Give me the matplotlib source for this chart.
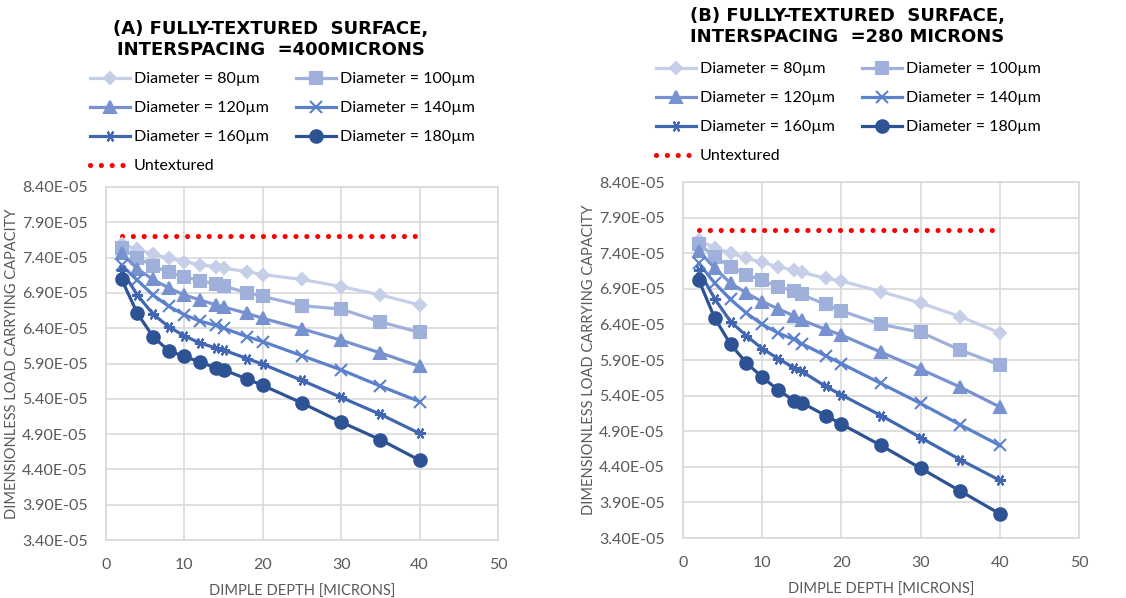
import numpy as np
import matplotlib
matplotlib.use('Agg')
import matplotlib.pyplot as plt
from matplotlib.ticker import FormatStrFormatter, MultipleLocator

plt.rcParams['font.family'] = ['Lato', 'DejaVu Sans']

# dimple depth [microns]
depth = [2, 4, 6, 8, 10, 12, 14, 15, 18, 20, 25, 30, 35, 40]
labels = ['Diameter = 80µm', 'Diameter = 100µm', 'Diameter = 120µm',
          'Diameter = 140µm', 'Diameter = 160µm', 'Diameter = 180µm']
y_ticks = [3.4e-5, 3.9e-5, 4.4e-5, 4.9e-5, 5.4e-5, 5.9e-5,
           6.4e-5, 6.9e-5, 7.4e-5, 7.9e-5, 8.4e-5]

# panel A: interspacing 400 microns (values x1e-5)
a_d80 = [7.59, 7.52, 7.45, 7.39, 7.34, 7.30, 7.27, 7.25, 7.20, 7.16, 7.09, 6.99, 6.87, 6.73]
a_d100 = [7.54, 7.40, 7.28, 7.19, 7.13, 7.07, 7.03, 7.00, 6.90, 6.85, 6.72, 6.67, 6.49, 6.34]
a_d120 = [7.46, 7.24, 7.09, 6.97, 6.87, 6.80, 6.73, 6.70, 6.61, 6.54, 6.39, 6.23, 6.05, 5.86]
a_d140 = [7.29, 7.08, 6.87, 6.71, 6.59, 6.50, 6.44, 6.40, 6.28, 6.21, 6.01, 5.81, 5.58, 5.36]
a_d160 = [7.22, 6.87, 6.60, 6.42, 6.29, 6.19, 6.12, 6.09, 5.97, 5.89, 5.66, 5.42, 5.18, 4.91]
a_d180 = [7.09, 6.61, 6.28, 6.08, 6.00, 5.92, 5.84, 5.81, 5.68, 5.59, 5.34, 5.07, 4.82, 4.53]
a_untex_x = [2, 40]
a_untex = [7.71, 7.71]

# panel B: interspacing 280 microns (values x1e-5)
b_d80 = [7.58, 7.48, 7.40, 7.33, 7.27, 7.21, 7.16, 7.13, 7.05, 7.01, 6.86, 6.70, 6.51, 6.28]
b_d100 = [7.53, 7.35, 7.21, 7.10, 7.02, 6.93, 6.87, 6.82, 6.68, 6.59, 6.40, 6.29, 6.04, 5.83]
b_d120 = [7.43, 7.19, 6.98, 6.84, 6.72, 6.62, 6.52, 6.46, 6.33, 6.25, 6.01, 5.77, 5.52, 5.24]
b_d140 = [7.26, 6.98, 6.75, 6.56, 6.40, 6.28, 6.19, 6.13, 5.96, 5.85, 5.57, 5.29, 4.99, 4.70]
b_d160 = [7.16, 6.76, 6.44, 6.24, 6.06, 5.92, 5.79, 5.74, 5.53, 5.41, 5.12, 4.81, 4.50, 4.21]
b_d180 = [7.02, 6.49, 6.12, 5.86, 5.66, 5.48, 5.33, 5.30, 5.12, 5.00, 4.70, 4.38, 4.06, 3.74]
b_untex_x = [2, 39]
b_untex = [7.72, 7.72]

colors = ['#c5cfe8', '#9fb0db', '#7892d0', '#5b80cc', '#4267b2', '#2e5395']
markers = ['D', 's', '^', 'x', (6, 2, 90), 'o']
msizes = [6, 9, 8, 8, 8, 9]

W, H = 1126, 598
fig = plt.figure(figsize=(W / 100, H / 100), dpi=100)


def px_axes(left, top, right, bottom):
    return fig.add_axes([left / W, 1 - bottom / H, (right - left) / W, (bottom - top) / H])


def draw_panel(ax, series, ux, uy, title, title_xy, leg_xy):
    lines = []
    for vals, lab, c, m, ms in zip(series, labels, colors, markers, msizes):
        y = np.array(vals) * 1e-5
        ln, = ax.plot(depth, y, color=c, lw=2.3, marker=m, ms=ms, mew=1.5,
                      mfc=c, mec=c, label=lab, zorder=3)
        lines.append(ln)
    un, = ax.plot(ux, np.array(uy) * 1e-5, color='#ff0000', lw=3.7,
                  linestyle=(0, (0.01, 2.1)), dash_capstyle='round',
                  label='Untextured', zorder=2)
    ax.set_xlim(0, 50)
    ax.set_ylim(y_ticks[0], y_ticks[-1])
    ax.xaxis.set_major_locator(MultipleLocator(10))
    ax.set_yticks(y_ticks)
    ax.yaxis.set_major_formatter(FormatStrFormatter('%.2E'))
    ax.grid(True, color='#d9d9d9', lw=1.2)
    ax.set_axisbelow(True)
    for s in ax.spines.values():
        s.set_color('#d9d9d9')
        s.set_linewidth(1.2)
    ax.tick_params(length=0, labelsize=11.5, colors='#595959')
    ax.tick_params(axis='x', pad=13)
    ax.tick_params(axis='y', pad=13)
    ax.set_xlabel('DIMPLE DEPTH [MICRONS]', fontsize=10.5, color='#595959', labelpad=9)
    ax.set_ylabel('DIMENSIONLESS LOAD CARRYING CAPACITY', fontsize=10.5, color='#595959', labelpad=2)
    fig.text(title_xy[0] / W, 1 - title_xy[1] / H, title, ha='center', va='top',
             fontsize=13, fontweight='bold', color='#000000', linespacing=1.18,
             family=['DejaVu Sans'])
    # row-wise legend order as in the original
    order = [lines[0], lines[2], lines[4], un, lines[1], lines[3], lines[5]]
    ax.legend(handles=order, ncol=2, loc='upper left',
              bbox_to_anchor=(leg_xy[0] / W, 1 - leg_xy[1] / H),
              bbox_transform=fig.transFigure, frameon=False, fontsize=11.5,
              borderpad=0, borderaxespad=0, handlelength=2.5,
              handletextpad=0.25, labelspacing=0.93, columnspacing=1.7)


ax_a = px_axes(106, 187, 498, 540)
draw_panel(ax_a, [a_d80, a_d100, a_d120, a_d140, a_d160, a_d180], a_untex_x, a_untex,
           '(A) FULLY-TEXTURED  SURFACE,\nINTERSPACING  =400MICRONS', (271, 20), (90, 72))

ax_b = px_axes(683, 182, 1079, 538)
draw_panel(ax_b, [b_d80, b_d100, b_d120, b_d140, b_d160, b_d180], b_untex_x, b_untex,
           '(B) FULLY-TEXTURED  SURFACE,\nINTERSPACING  =280 MICRONS', (847, 7), (656, 62))

fig.savefig('out.png', dpi=100)
